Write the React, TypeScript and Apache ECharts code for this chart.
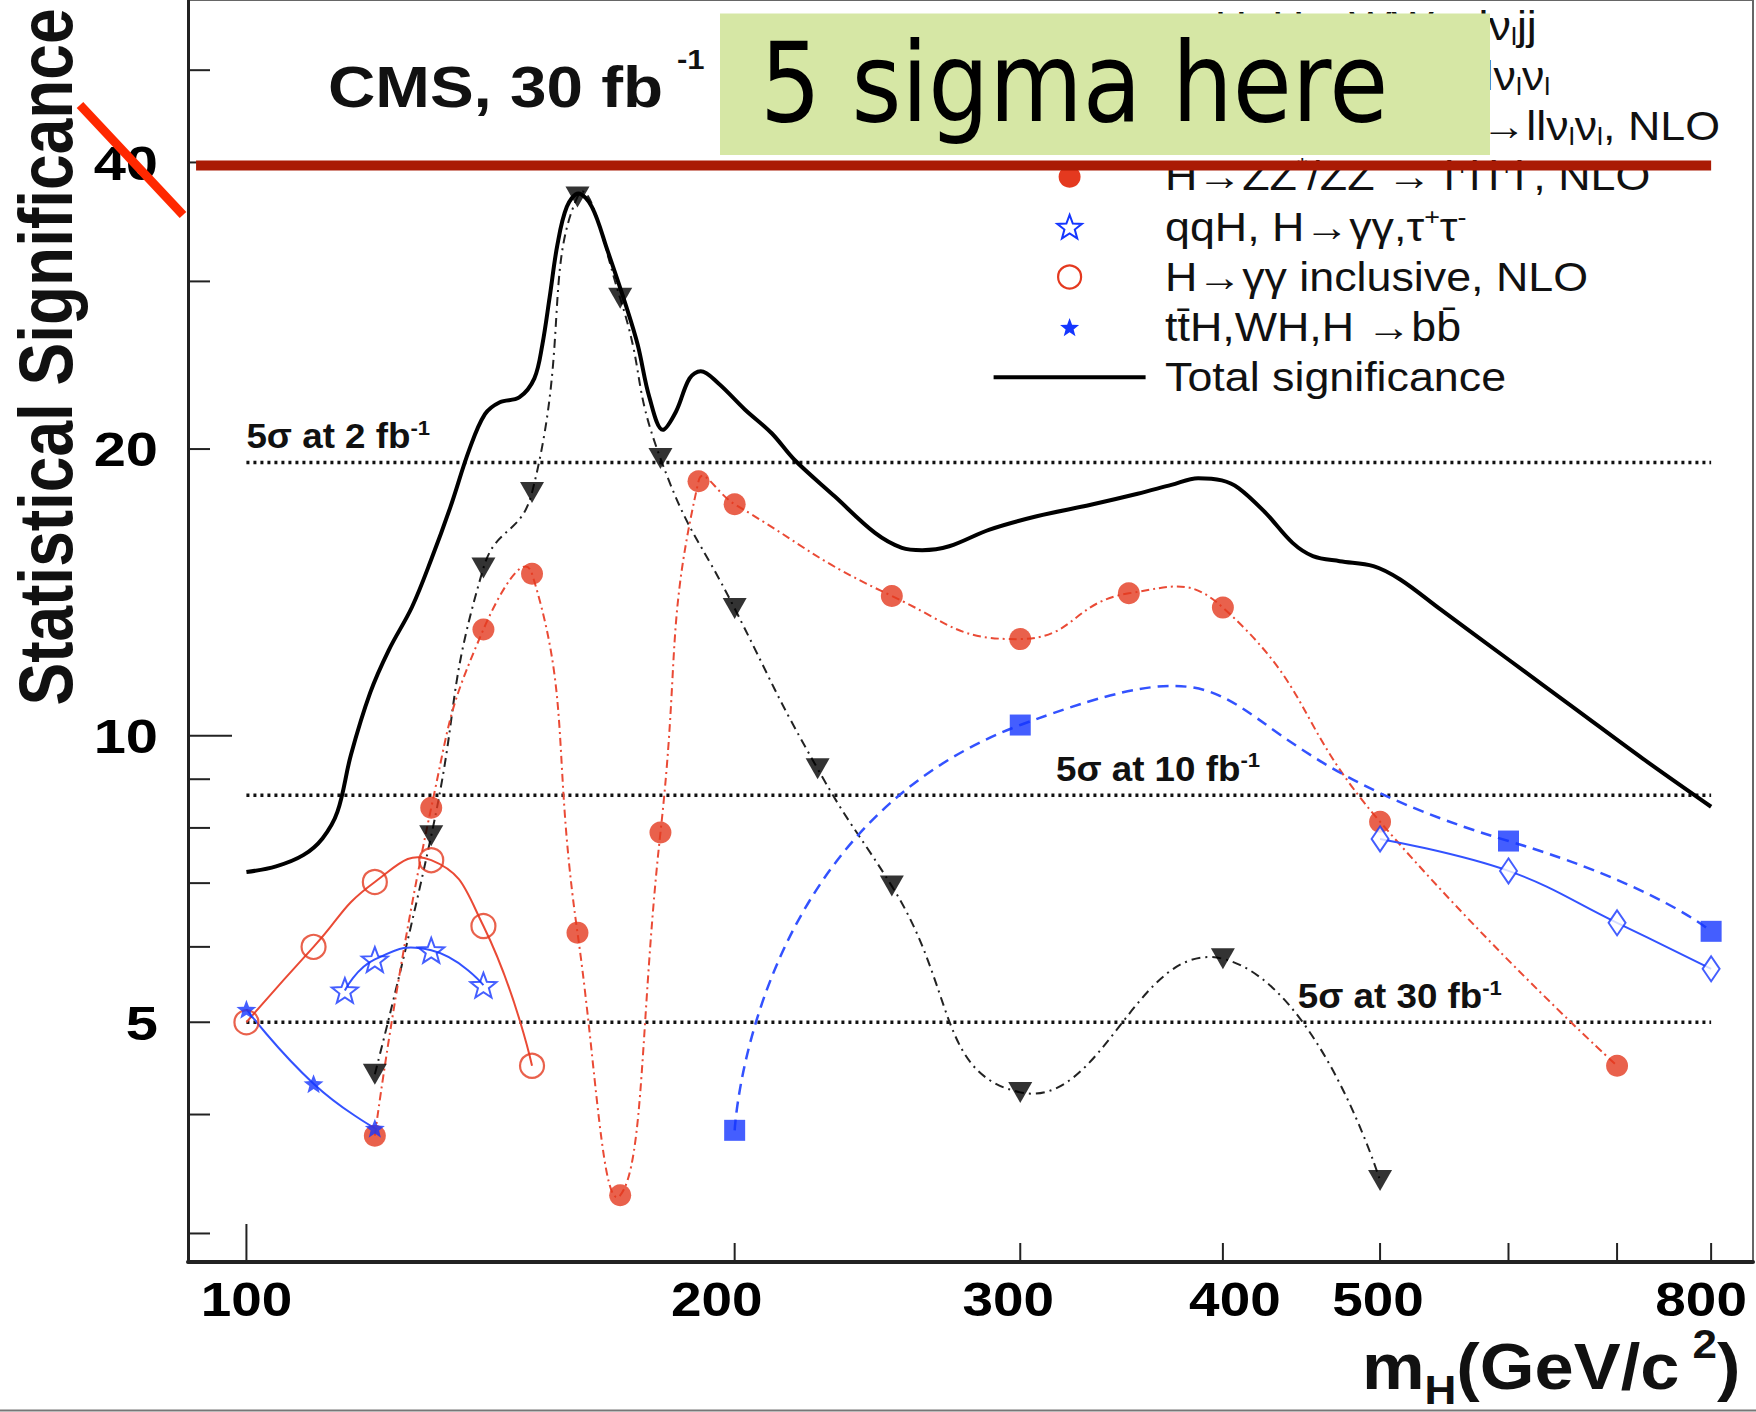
import React, { useEffect, useRef } from "react";
import * as echarts from "echarts";

const FONT = "Liberation Sans, Arial, Helvetica, sans-serif";

// ---------------- data (m_H in GeV/c^2, statistical significance for 30 fb^-1) ----------------
const wwMass = [120, 130, 140, 150, 160, 170, 180, 200, 225, 250, 300, 400, 500];
const wwSig = [4.41, 7.85, 15.0, 18.0, 36.8, 28.8, 19.55, 13.6, 9.23, 6.95, 4.22, 5.83, 3.41];

const zz4lMass = [120, 130, 140, 150, 160, 170, 180, 190, 200, 250, 300, 350, 400, 500, 700];
const zz4lSig = [3.8, 8.4, 12.93, 14.79, 6.21, 3.29, 7.91, 18.5, 17.5, 14.02, 12.63, 14.11, 13.63, 8.12, 4.5];

const qqhGgTauMass = [115, 120, 130, 140];
const qqhGgTauSig = [5.4, 5.82, 5.95, 5.47];

const ggIncMass = [100, 110, 120, 130, 140, 150];
const ggIncSig = [5.0, 6.0, 7.02, 7.4, 6.31, 4.5];

const bbMass = [100, 110, 120];
const bbSig = [5.16, 4.31, 3.87];

const qqhWwMass = [200, 300, 600, 800];
const qqhWwSig = [3.85, 10.26, 7.75, 6.23];

const zzNuMass = [500, 600, 700, 800];
const zzNuSig = [7.79, 7.21, 6.36, 5.69];

const totalMass = [100, 104.3, 108.4, 111.4, 113.8, 116.0, 119.2, 122.4, 126.5, 130.0, 133.6, 137.2, 140.3, 143.3, 147.3, 150.5, 152.2, 153.8, 155.5, 157.6, 160.2, 163.3, 166.9, 171.5, 174.3, 177.2, 180.6, 184.0, 187.6, 190.6, 195.4, 202.9, 210.8, 217.7, 230.5, 244.1, 253.6, 261.0, 271.2, 287.2, 307.1, 331.6, 354.4, 371.8, 386.2, 399.4, 409.0, 425.0, 441.6, 454.5, 472.2, 495.3, 514.5, 544.8, 599.6, 659.7, 726.0, 800];
const totalSig = [7.19, 7.29, 7.49, 7.8, 8.32, 9.55, 11.09, 12.3, 13.65, 15.31, 17.39, 19.96, 21.76, 22.4, 22.66, 23.73, 25.72, 28.87, 32.77, 35.93, 37.11, 35.93, 32.39, 28.21, 25.72, 22.66, 20.95, 21.89, 23.73, 24.14, 23.45, 22.01, 20.78, 19.49, 17.84, 16.33, 15.75, 15.66, 15.81, 16.46, 17.0, 17.48, 17.95, 18.34, 18.64, 18.54, 18.2, 17.14, 15.94, 15.44, 15.25, 15.07, 14.59, 13.57, 12.03, 10.67, 9.46, 8.42];

// 5 sigma discovery levels for smaller luminosities, expressed at 30 fb^-1
const discoveryLevels = [19.36, 8.66, 5.0];
const discoveryLabels = ["5σ at 2 fb", "5σ at 10 fb", "5σ at 30 fb"];
const discoveryLabelMass = [100, 315.6, 444.9];
const discoveryLineMass = [100, 800];

// hand-drawn highlight ("5 sigma here")
const highlightMass = [93.1, 800];
const highlightSig = 39.7;

const xTickValues = [100, 200, 300, 400, 500, 600, 700, 800];
const xLabelValues = [100, 200, 300, 400, 500, 800];
const yTickValues = [3, 4, 5, 6, 7, 8, 9, 10, 20, 30, 40, 50];
const yLabelValues = [5, 10, 20, 40];

const legendLabels = [
  "qqH, H→WW→lν{sub|l}jj",
  "qqH, H→ZZ → llν{sub|l}ν{sub|l}",
  "qqH, H→ZZ{sup|*}/ZZ→llν{sub|l}ν{sub|l}, NLO",
  "H→ZZ{sup|*}/ZZ → l{sup|+}l{sup|-}l{sup|+}l{sup|-}, NLO",
  "qqH, H→γγ,τ{sup|+}τ{sup|-}",
  "H→γγ inclusive, NLO",
  "tt\u0304H,WH,H →bb\u0304",
  "Total significance",
];
const legendMarkers = ["square", "triDown", "diamond", "dot", "openStar", "openCircle", "star", "line"];

// ---------------- axis ranges ----------------
const X_MIN = 92.04;
const X_MAX = 849;
const Y_MIN = 2.8;
const Y_MAX = 59.25;

// ---------------- styles ----------------
const BLACK = "#000";
const RED = "#e4391f";
const RED_LINE = "#ea4a35";
const BLUE = "#1536ff";
const BLUE_LINE = "#3352ff";
const STAR_PATH =
  "path://M0,-50 L12.34,-16.99 L47.55,-15.45 L19.97,6.49 L29.39,40.45 L0,21 L-29.39,40.45 L-19.97,6.49 L-47.55,-15.45 L-12.34,-16.99 Z";
// small horizontal nudges of the x tick labels, as in the original figure (px)
const xLabelNudge: Record<number, number> = { 100: 0, 200: -18, 300: -12, 400: 12, 500: -2, 800: -10 };

const pairs = (xs: number[], ys: number[]) => xs.map((x, i) => [x, ys[i]]);

function curveSeries(name: string, xs: number[], ys: number[], color: string, width: number, dash: number[] | null, smooth: number) {
  const data = pairs(xs, ys);
  return {
    type: "custom",
    name,
    silent: true,
    z: 2,
    data,
    renderItem: (params: any, api: any) => {
      if (params.dataIndex !== 0) return null;
      const points = data.map((d) => api.coord(d));
      return {
        type: "polyline",
        shape: { points, smooth },
        style: { stroke: color, lineWidth: width, lineDash: dash || undefined, fill: "none" },
      };
    },
  };
}

function markerSeries(name: string, xs: number[], ys: number[], symbol: string, size: any, itemStyle: any, rotate = 0) {
  return {
    type: "scatter",
    name,
    silent: true,
    z: 3,
    data: pairs(xs, ys),
    symbol,
    symbolSize: size,
    symbolRotate: rotate,
    symbolKeepAspect: true,
    itemStyle,
  };
}

function starPoints(cx: number, cy: number, R: number) {
  const pts: number[][] = [];
  for (let k = 0; k < 10; k++) {
    const ang = -Math.PI / 2 + (k * Math.PI) / 5;
    const rr = k % 2 === 0 ? R : R * 0.42;
    pts.push([cx + rr * Math.cos(ang), cy + rr * Math.sin(ang)]);
  }
  return pts;
}

function legendMarker(kind: string, cx: number, cy: number): any {
  switch (kind) {
    case "square":
      return { type: "rect", shape: { x: cx - 11, y: cy - 11, width: 22, height: 22 }, style: { fill: BLUE } };
    case "triDown":
      return { type: "polygon", shape: { points: [[cx - 12, cy - 10], [cx + 12, cy - 10], [cx, cy + 11]] }, style: { fill: BLACK } };
    case "diamond":
      return { type: "polygon", shape: { points: [[cx, cy - 12], [cx + 8, cy], [cx, cy + 12], [cx - 8, cy]] }, style: { fill: "#fff", stroke: BLUE, lineWidth: 2 } };
    case "dot":
      return { type: "circle", shape: { cx, cy, r: 11 }, style: { fill: RED } };
    case "openStar":
      return { type: "polygon", shape: { points: starPoints(cx, cy + 1, 13) }, style: { fill: "none", stroke: BLUE, lineWidth: 2 } };
    case "openCircle":
      return { type: "circle", shape: { cx, cy, r: 11.5 }, style: { fill: "none", stroke: RED, lineWidth: 2.2 } };
    case "star":
      return { type: "polygon", shape: { points: starPoints(cx, cy + 1, 10) }, style: { fill: BLUE } };
    default:
      return { type: "line", shape: { x1: cx - 76, y1: cy, x2: cx + 76, y2: cy }, style: { stroke: "#000", lineWidth: 4 } };
  }
}

const richScript = (size: number, bold = false) => ({
  sub: { font: `${bold ? "bold " : ""}${size}px ${FONT}`, verticalAlign: "bottom", lineHeight: size },
  sup: { font: `${bold ? "bold " : ""}${size}px ${FONT}`, verticalAlign: "top", lineHeight: size },
});

function buildOption() {
  const legendX = 1069.6;
  const legendTextX = 1165;
  const legendY0 = 26.5;
  const legendDY = 50.1;

  const legendGraphics: any[] = [];
  legendLabels.forEach((label, i) => {
    const cy = legendY0 + legendDY * i;
    const m = legendMarker(legendMarkers[i], legendX, cy);
    m.z = 5;
    legendGraphics.push(m);
    legendGraphics.push({
      type: "text",
      z: 5,
      x: legendTextX,
      y: cy,
      scaleX: 1.12,
      style: {
        text: label,
        font: `40px ${FONT}`,
        fill: "#111",
        lineHeight: 44,
        align: "left",
        verticalAlign: "middle",
        textAlign: "left",
        textVerticalAlign: "middle",
        rich: richScript(24),
      },
    });
  });

  const series: any[] = [
    // 5 sigma reference levels
    ...discoveryLevels.map((lvl, i) => ({
      type: "line",
      name: discoveryLabels[i],
      silent: true,
      z: 1,
      symbol: "none",
      data: discoveryLineMass.map((x) => [x, lvl]),
      lineStyle: { color: "#111", width: 3.5, type: [3, 4] },
    })),
    {
      type: "custom",
      name: "5σ labels",
      silent: true,
      z: 4,
      data: pairs(discoveryLabelMass, discoveryLevels),
      renderItem: (params: any, api: any) => {
        const p = api.coord([api.value(0), api.value(1)]);
        return {
          type: "text",
          x: p[0],
          y: p[1] - 26,
          scaleX: 1.05,
          style: {
            text: discoveryLabels[params.dataIndex] + "{sup|-1}",
            font: `bold 35px ${FONT}`,
            fill: "#111",
            lineHeight: 38,
            align: "left",
            verticalAlign: "middle",
            textAlign: "left",
            textVerticalAlign: "middle",
            rich: richScript(21, true),
          },
        };
      },
    },
    // total significance
    {
      type: "line",
      name: "Total significance",
      silent: true,
      z: 2,
      symbol: "none",
      smooth: 0.35,
      data: pairs(totalMass, totalSig),
      lineStyle: { color: "#000", width: 4 },
    },
    // channel curves
    curveSeries("H→WW→lνlν curve", wwMass, wwSig, "#222", 2, [9, 5, 2, 5], 0.5),
    curveSeries("H→ZZ→4l curve", zz4lMass, zz4lSig, RED_LINE, 2, [8, 4, 2, 4], 0.5),
    curveSeries("qqH, H→WW→lνjj curve", qqhWwMass, qqhWwSig, BLUE_LINE, 2.5, [11, 7], 0.7),
    curveSeries("H→γγ inclusive curve", ggIncMass, ggIncSig, RED_LINE, 2, null, 0.5),
    curveSeries("qqH, H→γγ,ττ curve", qqhGgTauMass, qqhGgTauSig, BLUE_LINE, 2, null, 0.5),
    curveSeries("ttH,WH,H→bb curve", bbMass, bbSig, BLUE_LINE, 2, null, 0.5),
    curveSeries("H→ZZ→llνν curve", zzNuMass, zzNuSig, BLUE_LINE, 2, null, 0.4),
    // markers
    markerSeries("H→ZZ*/ZZ→l+l-l+l-, NLO", zz4lMass, zz4lSig, "circle", 22, { color: RED }),
    markerSeries("H→WW→lνlν", wwMass, wwSig, "triangle", [24, 21], { color: BLACK }, 180),
    markerSeries("qqH, H→WW→lνjj", qqhWwMass, qqhWwSig, "rect", 21, { color: BLUE }),
    markerSeries("H→γγ inclusive, NLO", ggIncMass, ggIncSig, "circle", 24, { color: "rgba(255,255,255,0)", borderColor: RED, borderWidth: 2.2 }),
    markerSeries("qqH, H→γγ,τ+τ-", qqhGgTauMass, qqhGgTauSig, STAR_PATH, 26, { color: "rgba(255,255,255,0)", borderColor: BLUE, borderWidth: 2 }),
    markerSeries("H→ZZ→llνν, NLO", zzNuMass, zzNuSig, "diamond", [17, 25], { color: "#fff", borderColor: BLUE, borderWidth: 2 }),
    markerSeries("ttH,WH,H→bb", bbMass, bbSig, STAR_PATH, 20, { color: BLUE }),
    // hand-drawn highlight line
    {
      type: "line",
      name: "5 sigma here",
      silent: true,
      z: 8,
      symbol: "none",
      data: highlightMass.map((x) => [x, highlightSig]),
      lineStyle: { color: "#aa1b05", width: 10, cap: "butt" },
    },
    // axis ticks & labels
    {
      type: "custom",
      name: "y ticks",
      silent: true,
      z: 4,
      data: yTickValues.map((v) => [X_MIN, v]),
      renderItem: (params: any, api: any) => {
        const v = api.value(1);
        const p = api.coord([X_MIN, v]);
        const left = params.coordSys.x;
        const len = v === 10 ? 44 : 22;
        const children: any[] = [
          { type: "line", shape: { x1: left, y1: p[1], x2: left + len, y2: p[1] }, style: { stroke: "#222", lineWidth: 2 } },
        ];
        if (yLabelValues.indexOf(v) >= 0) {
          children.push({
            type: "text",
            x: 158,
            y: p[1],
            scaleX: 1.18,
            style: { text: String(v), font: `bold 49px ${FONT}`, fill: "#000", align: "right", verticalAlign: "middle", textAlign: "right", textVerticalAlign: "middle" },
          });
        }
        return { type: "group", children };
      },
    },
    {
      type: "custom",
      name: "x ticks",
      silent: true,
      z: 4,
      data: xTickValues.map((v) => [v, Y_MIN]),
      renderItem: (params: any, api: any) => {
        const v = api.value(0);
        const p = api.coord([v, Y_MIN]);
        const bottom = params.coordSys.y + params.coordSys.height;
        const len = v === 100 ? 38 : 19;
        const children: any[] = [
          { type: "line", shape: { x1: p[0], y1: bottom, x2: p[0], y2: bottom - len }, style: { stroke: "#222", lineWidth: 2 } },
        ];
        if (xLabelValues.indexOf(v) >= 0) {
          children.push({
            type: "text",
            x: p[0] + (xLabelNudge[v] || 0),
            y: bottom + 37,
            scaleX: 1.12,
            style: { text: String(v), font: `bold 49px ${FONT}`, fill: "#000", align: "center", verticalAlign: "middle", textAlign: "center", textVerticalAlign: "middle" },
          });
        }
        return { type: "group", children };
      },
    },
  ];

  const graphic: any[] = [
    ...legendGraphics,
    // CMS label
    {
      type: "text",
      z: 5,
      x: 328,
      y: 87,
      scaleX: 1.15,
      style: { text: "CMS, 30 fb", font: `bold 57px ${FONT}`, fill: "#111", align: "left", verticalAlign: "middle", textAlign: "left", textVerticalAlign: "middle" },
    },
    {
      type: "text",
      z: 5,
      x: 677,
      y: 60,
      scaleX: 1.15,
      style: { text: "-1", font: `bold 27px ${FONT}`, fill: "#111", align: "left", verticalAlign: "middle", textAlign: "left", textVerticalAlign: "middle" },
    },
    // y axis title
    {
      type: "text",
      z: 5,
      x: 45,
      y: 357,
      rotation: Math.PI / 2,
      scaleY: 1.2,
      style: { text: "Statistical Significance", font: `bold 64px ${FONT}`, fill: "#111", align: "center", verticalAlign: "middle", textAlign: "center", textVerticalAlign: "middle" },
    },
    // x axis title
    {
      type: "text",
      z: 5,
      x: 1362,
      y: 1367,
      scaleX: 1.1,
      style: {
        text: "m{sub|H}(GeV/c{sup|2})",
        font: `bold 64px ${FONT}`,
        fill: "#111",
        lineHeight: 86,
        align: "left",
        verticalAlign: "middle",
        textAlign: "left",
        textVerticalAlign: "middle",
        rich: {
          sub: { font: `bold 40px ${FONT}`, verticalAlign: "bottom", lineHeight: 40 },
          sup: { font: `bold 40px ${FONT}`, verticalAlign: "top", lineHeight: 40, padding: [0, 0, 0, 12] },
        },
      },
    },
    // annotation box
    {
      type: "rect",
      z: 10,
      shape: { x: 720, y: 13.4, width: 770, height: 141.5 },
      style: { fill: "#d6e7a5" },
    },
    {
      type: "text",
      z: 11,
      x: 760,
      y: 82.5,
      scaleY: 1.15,
      style: { text: "5 sigma here", font: `96px DejaVu Sans, sans-serif`, fill: "#000", align: "left", verticalAlign: "middle", textAlign: "left", textVerticalAlign: "middle" },
    },
    // red slash over the "40" label
    {
      type: "line",
      z: 12,
      shape: { x1: 80, y1: 105, x2: 183, y2: 215 },
      style: { stroke: "#ff2800", lineWidth: 9 },
    },
    // image border at the bottom
    {
      type: "line",
      z: 12,
      shape: { x1: 0, y1: 1410.5, x2: 1756, y2: 1410.5 },
      style: { stroke: "#777", lineWidth: 2 },
    },
  ];

  return {
    animation: false,
    backgroundColor: "#fff",
    grid: { left: 188, right: 3, top: -5, bottom: 150, show: true, borderColor: "#666", borderWidth: 2, backgroundColor: "transparent" },
    xAxis: {
      type: "log",
      logBase: 10,
      min: X_MIN,
      max: X_MAX,
      axisLine: { show: true, onZero: false, lineStyle: { color: "#222", width: 4 } },
      axisTick: { show: false },
      axisLabel: { show: false },
      splitLine: { show: false },
    },
    yAxis: {
      type: "log",
      logBase: 10,
      min: Y_MIN,
      max: Y_MAX,
      axisLine: { show: true, onZero: false, lineStyle: { color: "#222", width: 3 } },
      axisTick: { show: false },
      axisLabel: { show: false },
      splitLine: { show: false },
    },
    series,
    graphic,
  };
}

export default function App() {
  const ref = useRef<HTMLDivElement>(null);
  useEffect(() => {
    if (!ref.current) return;
    const chart = echarts.init(ref.current, null, { renderer: "svg" });
    chart.setOption(buildOption() as any);
    return () => chart.dispose();
  }, []);
  return (
    <div
      ref={ref}
      style={{ position: "absolute", left: 0, top: 0, width: 1756, height: 1412, background: "#fff" }}
    />
  );
}
